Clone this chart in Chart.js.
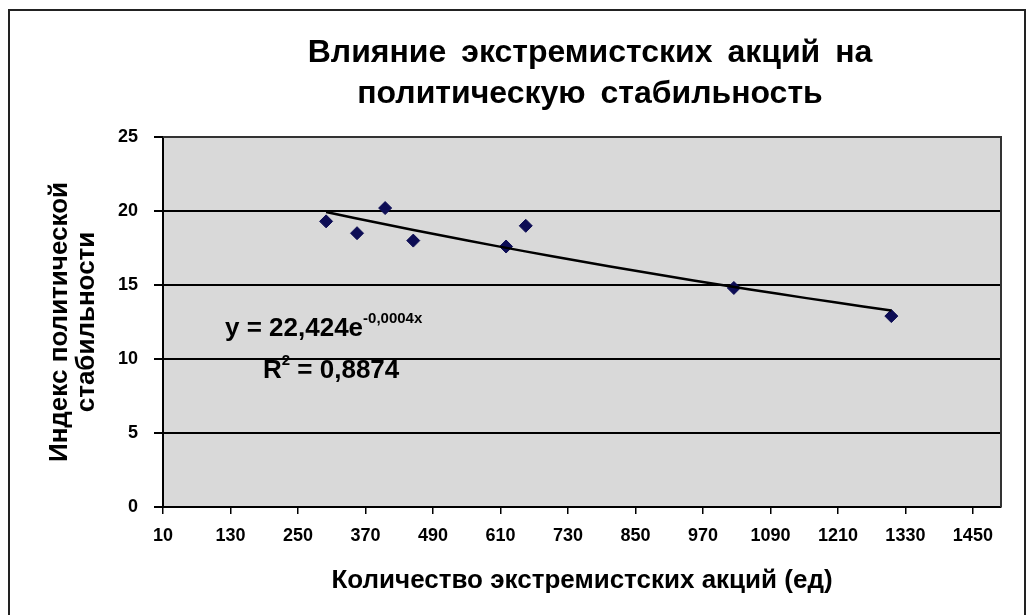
<!DOCTYPE html>
<html lang="ru">
<head>
<meta charset="utf-8">
<title>Влияние экстремистских акций на политическую стабильность</title>
<script src="https://cdn.jsdelivr.net/npm/chart.js@4.4.0/dist/chart.umd.min.js"></script>
<style>
    html, body { margin: 0; padding: 0; background: #fff; overflow: hidden; }
    #wrap { position: relative; width: 1032px; height: 615px; }
    #frame { position: absolute; left: 8px; top: 9px; width: 1014px; height: 700px; border: 2px solid #222; }
    #title { position: absolute; left: 240px; width: 700px; top: 31px; text-align: center;
             font: bold 32px "Liberation Sans", Arial, sans-serif; line-height: 41px; word-spacing: 6px; color: #000; }
    .eq { position: absolute; font: bold 26px "Liberation Sans", Arial, sans-serif; color: #000; line-height: 26px; white-space: nowrap; }
    .eq sup { font-size: 15px; vertical-align: 13px; line-height: 0; }
    #eq1 { left: 225px; top: 314px; }
    #eq2 { left: 263px; top: 356px; }
    canvas { position: absolute; left: 0; top: 0; }
</style>
</head>
<body>
<div id="wrap">
    <div id="frame"></div>
    <canvas id="myChart" width="1032" height="615"></canvas>
    <div id="title">Влияние экстремистских акций на<br>политическую стабильность</div>
    <div class="eq" id="eq1">y = 22,424e<sup>-0,0004x</sup></div>
    <div class="eq" id="eq2">R<sup>2</sup> = 0,8874</div>
</div>
<script>
// Données
const actions = [300, 355, 405, 455, 620, 655, 1025, 1305];
const stability = [19.3, 18.5, 20.2, 18.0, 17.6, 19.0, 14.8, 12.9];

// Axes
const xMin = 10;
const xMax = 1500;
const xStep = 120;
const yMin = 0;
const yMax = 25;
const yStep = 5;

const xTitle = 'Количество экстремистских акций (ед)';
const yTitle = ['Индекс политической', 'стабильности'];

// Points du nuage
let points = [];
for (let i = 0; i < actions.length; i++) {
    points.push({ x: actions[i], y: stability[i] });
}

// Tendance exponentielle (moindres carrés sur ln y)
function expFit(xs, ys) {
    let n = xs.length, sx = 0, sy = 0, sxx = 0, sxy = 0;
    for (let i = 0; i < n; i++) {
        const ly = Math.log(ys[i]);
        sx += xs[i]; sy += ly; sxx += xs[i] * xs[i]; sxy += xs[i] * ly;
    }
    const b = (n * sxy - sx * sy) / (n * sxx - sx * sx);
    const a = Math.exp((sy - b * sx) / n);
    return { a: a, b: b };
}

const fit = expFit(actions, stability);
let trend = [];
const lo = Math.min(...actions);
const hi = Math.max(...actions);
for (let i = 0; i <= 20; i++) {
    const x = lo + (hi - lo) * i / 20;
    trend.push({ x: x, y: fit.a * Math.exp(fit.b * x) });
}

// Fond gris de la zone de tracé + bordure
const plotArea = {
    id: 'plotArea',
    beforeDraw(chart) {
        const a = chart.chartArea;
        const ctx = chart.ctx;
        ctx.save();
        ctx.fillStyle = '#d9d9d9';
        ctx.fillRect(a.left, a.top, a.right - a.left, a.bottom - a.top);
        ctx.restore();
    },
    afterDraw(chart) {
        const a = chart.chartArea;
        const ctx = chart.ctx;
        ctx.save();
        ctx.strokeStyle = '#333';
        ctx.lineWidth = 2;
        ctx.beginPath();
        ctx.moveTo(a.left, a.top);
        ctx.lineTo(a.right, a.top);
        ctx.lineTo(a.right, a.bottom);
        ctx.stroke();
        ctx.restore();
    }
};

const fontFamily = '"Liberation Sans", Arial, sans-serif';
const tickFont = { family: fontFamily, size: 18, weight: 'bold' };

new Chart(document.getElementById('myChart'), {
    type: 'scatter',
    data: {
        datasets: [{
            type: 'line',
            data: trend,
            borderColor: '#000',
            borderWidth: 2.5,
            pointRadius: 0,
            fill: false,
            order: 0
        }, {
            data: points,
            pointStyle: 'rectRot',
            pointRadius: 6.5,
            backgroundColor: '#0d0d55',
            borderColor: '#0d0d55',
            order: 1
        }]
    },
    options: {
        responsive: false,
        animation: false,
        layout: { padding: { top: 137, right: 31, bottom: 0, left: 0 } },
        plugins: {
            legend: { display: false },
            tooltip: { enabled: false },
            title: { display: false }
        },
        scales: {
            x: {
                type: 'linear',
                min: xMin,
                max: xMax,
                // graduations tous les 120 à partir de 10
                afterBuildTicks: function(scale) {
                    let t = [];
                    for (let v = xMin; v <= xMax; v += xStep) {
                        t.push({ value: v });
                    }
                    scale.ticks = t;
                },
                afterFit: function(scale) { scale.height = 108; },
                ticks: {
                    font: tickFont, color: '#000', padding: 11, maxRotation: 0, autoSkip: false,
                    callback: function(value) { return String(value); }
                },
                grid: { drawOnChartArea: false, drawTicks: true, tickLength: 7, color: '#000', lineWidth: 1.5 },
                border: { display: true, color: '#000', width: 2 },
                title: {
                    display: true,
                    text: xTitle,
                    color: '#000',
                    font: { family: fontFamily, size: 26, weight: 'bold' },
                    padding: { top: 0, bottom: 19 }
                }
            },
            y: {
                min: yMin,
                max: yMax,
                afterFit: function(scale) { scale.width = 163; },
                ticks: {
                    stepSize: yStep, font: tickFont, color: '#000', padding: 16,
                    callback: function(value) { return String(value); }
                },
                grid: { color: '#000', lineWidth: 2, drawTicks: true, tickLength: 9 },
                border: { display: true, color: '#000', width: 2 },
                title: {
                    display: true,
                    text: yTitle,
                    color: '#000',
                    font: { family: fontFamily, size: 26, weight: 'bold', lineHeight: 1.05 },
                    padding: { top: 46, bottom: 0 }
                }
            }
        }
    },
    plugins: [plotArea]
});
</script>
</body>
</html>
